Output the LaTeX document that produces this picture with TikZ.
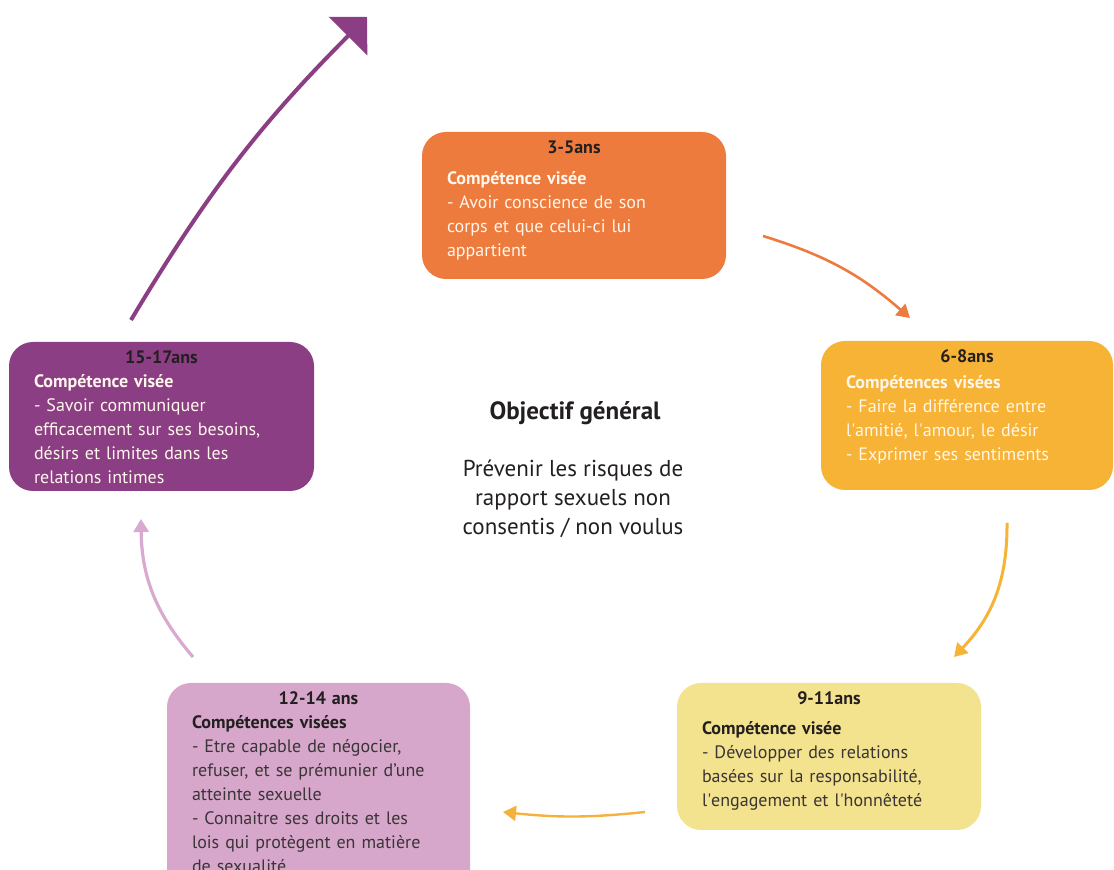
\documentclass[tikz,border=0pt]{standalone}
\usepackage{fontspec}
\setmainfont{PT Sans}
\usepackage{tikz}
\usetikzlibrary{positioning}
\usetikzlibrary{arrows.meta}

\definecolor{age35}{HTML}{EC7B3D}
\definecolor{age68}{HTML}{F6B335}
\definecolor{age911}{HTML}{F3E38F}
\definecolor{age1214}{HTML}{D6A7CB}
\definecolor{age1517}{HTML}{8C3E85}
\definecolor{arr911}{HTML}{F5B13E}
\definecolor{arr1214}{HTML}{D9AAD0}
\definecolor{darktext}{HTML}{231F20}
\definecolor{bodygray}{HTML}{3A3536}
\definecolor{cream}{HTML}{FFF6EC}

\newcommand{\agetitle}[1]{\makebox[\linewidth]{\textcolor{darktext}{\bfseries #1}}}
\newcommand{\apos}{\textquotesingle}

\tikzset{stage/.style={draw=none, rounded corners=12pt, inner sep=0pt},
	stagetext/.style={inner sep=0pt, align=left, anchor=north},
	flow/.style={line width=1.3pt, -{Triangle[length=6.5pt,width=7.5pt]}}}

\begin{document}
\begin{tikzpicture}[x=0.5pt,y=-0.5pt, font=\fontsize{9}{12}\selectfont]
		\useasboundingbox (0,0) rectangle (1114,870);
		
		% boxes
		\node[stage, fill=age35, minimum width=152pt, minimum height=73.5pt] (s35) at (574,205.5) {};
		\node[stage, fill=age68, minimum width=146pt, minimum height=74.5pt] (s68) at (967,415.5) {};
		\node[stage, fill=age911, minimum width=152pt, minimum height=73.5pt] (s911) at (829,756.5) {};
		\node[stage, fill=age1214, minimum width=151.5pt, minimum height=108.5pt] (s1214) at (318.5,791.5) {};
		\node[stage, fill=age1517, minimum width=152.5pt, minimum height=74.5pt] (s1517) at (161.5,416.5) {};
		
		% texts
		\node[stagetext, text=cream, text width=127pt, below=4.5pt of s35.north] (t35)
		{\agetitle{3-5ans}\\[3.5pt] \textbf{Compétence visée}\\ - Avoir conscience de son\\ corps et que celui-ci lui\\ appartient};
		\node[stagetext, text=cream, text width=121pt, below=4.5pt of s68.north] (t68)
		{\agetitle{6-8ans}\\[1pt] \textbf{Compétences visées}\\ - Faire la différence entre\\ l\apos amitié, l\apos amour, le désir\\ - Exprimer ses sentiments};
		\node[stagetext, text=bodygray, text width=127pt, below=4.5pt of s911.north] (t911)
		{\agetitle{9-11ans}\\[3pt] \textbf{\textcolor{darktext}{Compétence visée}}\\ - Développer des relations\\ basées sur la responsabilité,\\ l\apos engagement et l\apos honnêteté};
		\node[stagetext, text=bodygray, text width=126.5pt, below=4.5pt of s1214.north] (t1214)
		{\agetitle{12-14 ans}\\ \textbf{\textcolor{darktext}{Compétences visées}}\\ - Etre capable de négocier,\\ refuser, et se prémunier d'une\\ atteinte sexuelle\\ - Connaitre ses droits et les\\ lois qui protègent en matière\\ de sexualité};
		\node[stagetext, text=cream, text width=127.5pt, below=4.5pt of s1517.north] (t1517)
		{\agetitle{15-17ans}\\ \textbf{Compétence visée}\\ - Savoir communiquer\\ efficacement sur ses besoins,\\ désirs et limites dans les\\ relations intimes};
		
		% centre
		\node[font=\fontsize{12.5}{15}\selectfont\bfseries, text=darktext] (goal) at (575,413) {Objectif général};
		\node[font=\fontsize{11.5}{14.5}\selectfont, text=darktext, align=center] (goaltext) at (573,499) {Prévenir les risques de\\ rapport sexuels non\\ consentis / non voulus};
		
		% arrows
		\coordinate (from35) at (763,236);
		\coordinate (to68) at (910,318);
		\coordinate (from68) at (1007,523);
		\coordinate (to911) at (954,657);
		\coordinate (from911) at (645,812);
		\coordinate (to1214) at (503,812);
		\coordinate (from1214) at (193,657);
		\coordinate (to1517) at (141,519);
		\coordinate (from1517) at (131,320);
		\coordinate (out) at (367,17);
		
		\draw[flow, color=age35] (from35) to[bend left=12] (to68);
		\draw[flow, color=age68, line width=1.5pt] (from68) to[bend left=22] (to911);
		\draw[flow, color=arr911, line width=1.2pt] (from911) to[bend left=6] (to1214);
		\draw[flow, color=arr1214, line width=1.6pt] (from1214) to[bend left=20] (to1517);
		\draw[color=age1517, line width=2pt, -{Triangle[length=13.5pt,width=27pt]}] (from1517) to[bend left=7] (out);
	\end{tikzpicture}
\end{document}
